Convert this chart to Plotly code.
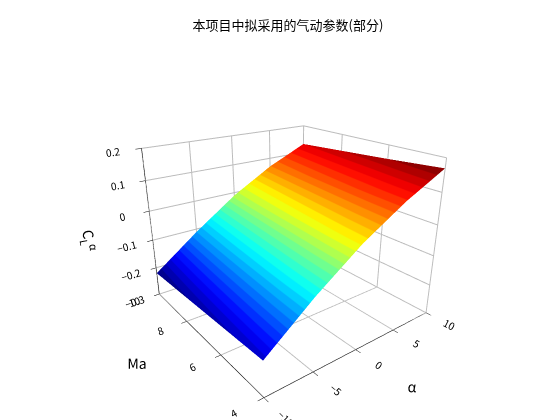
import numpy as np
import plotly.graph_objects as go

alpha = [-10, -5, 0, 5, 10]
mach = [4, 5, 6, 7, 8, 9, 10]
# C_L^alpha, rows = Ma, cols = alpha
cl_alpha = [
    [-0.19, -0.075, 0.025, 0.105, 0.170],
    [-0.195, -0.080, 0.020, 0.100, 0.163],
    [-0.200, -0.086, 0.014, 0.094, 0.156],
    [-0.205, -0.092, 0.008, 0.088, 0.150],
    [-0.210, -0.098, 0.002, 0.082, 0.144],
    [-0.215, -0.104, -0.004, 0.076, 0.138],
    [-0.220, -0.110, -0.010, 0.070, 0.132],
]

# banded jet colorscale
jet = [(0, 0, 0.5), (0, 0, 1), (0, 1, 1), (1, 1, 0), (1, 0, 0), (0.5, 0, 0)]
pos = [0, 0.125, 0.375, 0.625, 0.875, 1]
n = 32
cs = []
for i in range(n):
    t = (i + 0.5) / n
    c = [np.interp(t, pos, [p[k] for p in jet]) for k in range(3)]
    col = "rgb(%d,%d,%d)" % tuple(int(v * 255) for v in c)
    cs.append([i / n, col])
    cs.append([(i + 1) / n, col])

fig = go.Figure(go.Surface(
    x=alpha, y=mach, z=cl_alpha, colorscale=cs, showscale=False,
    lighting=dict(ambient=1, diffuse=0, specular=0, roughness=1, fresnel=0),
    contours=dict(x=dict(highlight=False), y=dict(highlight=False), z=dict(highlight=False)),
))

ax = dict(showgrid=True, gridcolor="#bbb", showbackground=False,
          linecolor="black", showline=True, ticks="outside", tickcolor="black",
          tickfont=dict(size=11, color="black"), zeroline=False)
fig.update_layout(
    width=560, height=420, paper_bgcolor="white",
    margin=dict(l=0, r=0, t=30, b=0),
    font=dict(family="Noto Sans CJK SC, DejaVu Sans", color="black"),
    title=dict(text="本项目中拟采用的气动参数(部分)", x=0.5, y=0.97, font=dict(size=13)),
    scene=dict(
        xaxis=dict(ax, title="α", range=[-10, 10], tickvals=[-10, -5, 0, 5, 10]),
        yaxis=dict(ax, title="Ma", range=[4, 10], tickvals=[4, 6, 8, 10]),
        zaxis=dict(ax, title="C<sub>L</sub><sup>α</sup>", range=[-0.3, 0.2],
                   tickvals=[-0.3, -0.2, -0.1, 0, 0.1, 0.2]),
        aspectmode="manual", aspectratio=dict(x=1, y=1, z=0.8),
        camera=dict(eye=dict(x=-1.3, y=-1.7, z=0.9)),
    ),
)
fig.write_html("out.html")
